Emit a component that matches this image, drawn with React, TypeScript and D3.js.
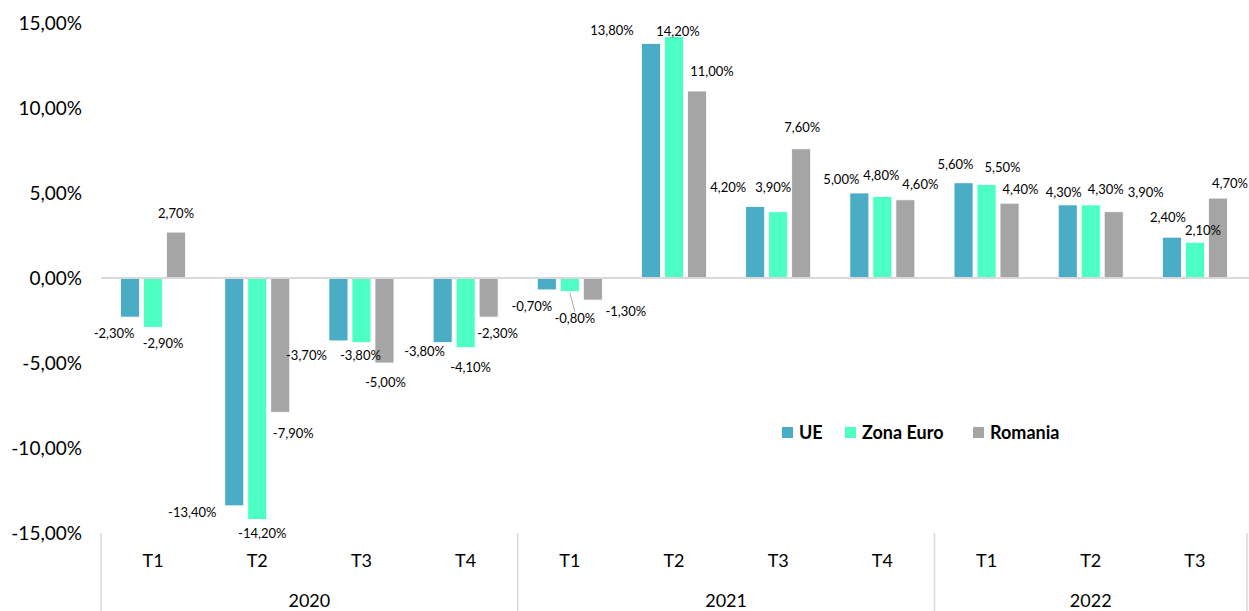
import React from 'react'
import * as d3 from 'd3'

// data
const years = ['2020', '2021', '2022']
const quarters = ['T1', 'T2', 'T3', 'T4', 'T1', 'T2', 'T3', 'T4', 'T1', 'T2', 'T3']
const quarterYear = [0, 0, 0, 0, 1, 1, 1, 1, 2, 2, 2]
const series = ['UE', 'Zona Euro', 'Romania']
const ue = [-2.3, -13.4, -3.7, -3.8, -0.7, 13.8, 4.2, 5.0, 5.6, 4.3, 2.4]
const zonaEuro = [-2.9, -14.2, -3.8, -4.1, -0.8, 14.2, 3.9, 4.8, 5.5, 4.3, 2.1]
const romania = [2.7, -7.9, -5.0, -2.3, -1.3, 11.0, 7.6, 4.6, 4.4, 3.9, 4.7]
const yTicks = [-15, -10, -5, 0, 5, 10, 15]

const colors = ['#4bacc6', '#4dffc3', '#a5a5a5']

// hand nudges of the data labels (like dragged labels in the original), [dx, dy]
const labelNudge = [
  [[-16, -1], [-42, -10], [-32, -2], [-18, -8], [-15, 0], [-39, 4], [-27, -2], [-18, 3], [-8, -1], [-4, 5], [-4, -3]],
  [[10, -1], [5, -3], [-1, -4], [5, 3], [5, 10], [4, 12], [-5, -7], [-1, -4], [16, 0], [15, 2], [8, 5]],
  [[0, -2], [13, 4], [1, 2], [9, -1], [33, -6], [15, -3], [1, -4], [15, 2], [11, 3], [32, -2], [12, 2]],
]

const W = 1249
const H = 611
const font = 'Lato, "Open Sans", sans-serif'

const loc = d3.formatLocale({ decimal: ',', thousands: '.', grouping: [3], currency: ['', '€'], minus: '-' })
const fmt = loc.format('.2f')
const pct = (v: number) => fmt(v) + '%'

export default function App() {
  const values = [ue, zonaEuro, romania]
  const keys = quarters.map((q, i) => years[quarterYear[i]] + q)

  const x0 = d3.scaleBand().domain(keys).range([101, 1247]).padding(0)
  const x1 = d3.scaleBand().domain(series).range([0, x0.bandwidth()]).paddingInner(0.174).paddingOuter(0.852)
  const y = d3.scaleLinear().domain([-15, 15]).range([533, 23])

  // year separators
  const yearBounds = years.map((yr, k) => {
    const idx = quarterYear.map((v, i) => (v === k ? i : -1)).filter(i => i >= 0)
    const start = x0(keys[idx[0]])!
    const end = x0(keys[idx[idx.length - 1]])! + x0.bandwidth()
    return { yr, start, end }
  })
  const seps = [yearBounds[0].start, ...yearBounds.map(b => b.end)]

  const legendX = [782, 845, 973]

  return (
    <svg width={W} height={H} style={{ position: 'fixed', left: 0, top: 0, background: '#fff' }} fontFamily={font}>
      {/* y axis labels */}
      {yTicks.map(t => (
        <text key={t} x={82} y={y(t)} dy="0.35em" textAnchor="end" fontSize={19} fill="#000">
          {pct(t)}
        </text>
      ))}

      {/* bars */}
      {series.map((s, si) =>
        values[si].map((v, i) => {
          const bx = x0(keys[i])! + x1(s)!
          const top = Math.min(y(v), y(0))
          return (
            <rect key={s + i} x={bx} y={top} width={x1.bandwidth()} height={Math.abs(y(v) - y(0))}
              fill={colors[si]} stroke="#fff" strokeWidth={0.8} />
          )
        })
      )}

      {/* zero line */}
      <line x1={101} x2={1249} y1={y(0)} y2={y(0)} stroke="#d9d9d9" strokeWidth={2} />

      {/* data labels */}
      {series.map((s, si) =>
        values[si].map((v, i) => {
          const cx = x0(keys[i])! + x1(s)! + x1.bandwidth() / 2
          const yEnd = y(v)
          const [dx, dy] = labelNudge[si][i]
          const lx = cx + dx
          const ly = v >= 0 ? yEnd - 17 + dy : yEnd + 17 + dy
          const leader = Math.abs(dy) >= 10 && v < 0 && Math.abs(v) < 1
          return (
            <g key={'l' + s + i}>
              {leader && <line x1={cx} y1={yEnd + 1} x2={lx} y2={ly - 7} stroke="#a6a6a6" strokeWidth={1} />}
              <text x={lx} y={ly} dy="0.35em" textAnchor="middle" fontSize={13} fill="#000">
                {pct(v)}
              </text>
            </g>
          )
        })
      )}

      {/* category axis */}
      {seps.map((sx, k) => (
        <line key={'s' + k} x1={sx} x2={sx} y1={533} y2={H} stroke="#d9d9d9" strokeWidth={1.5} />
      ))}
      {keys.map((k, i) => (
        <text key={'q' + k} x={x0(k)! + x0.bandwidth() / 2} y={561} dy="0.35em" textAnchor="middle" fontSize={18} fill="#000">
          {quarters[i]}
        </text>
      ))}
      {yearBounds.map(b => (
        <text key={'y' + b.yr} x={(b.start + b.end) / 2} y={601} dy="0.35em" textAnchor="middle" fontSize={18} fill="#000">
          {b.yr}
        </text>
      ))}

      {/* legend */}
      {series.map((s, si) => (
        <g key={'lg' + s}>
          <rect x={legendX[si]} y={427} width={11} height={11} fill={colors[si]} />
          <text x={legendX[si] + 17} y={432.5} dy="0.35em" fontSize={18} fontWeight="bold" fill="#000">
            {s}
          </text>
        </g>
      ))}
    </svg>
  )
}
